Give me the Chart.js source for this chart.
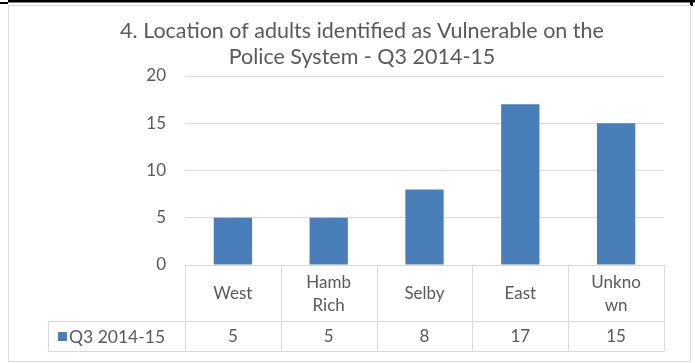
<!DOCTYPE html>
<html>
<head>
<meta charset="utf-8">
<script src="https://cdn.jsdelivr.net/npm/chart.js@4"></script>
<style>
html,body{margin:0;padding:0;background:#fff;}
#wrap{position:relative;width:695px;height:363px;}
canvas{display:block;}
</style>
</head>
<body>
<div id="wrap"><canvas id="c" width="695" height="363"></canvas></div>
<script>
const titleLines = ["4. Location of adults identified as Vulnerable on the", "Police System - Q3 2014-15"];
const categories = [["West"], ["Hamb", "Rich"], ["Selby"], ["East"], ["Unkno", "wn"]];
const seriesName = "Q3 2014-15";
const seriesValues = [5, 5, 8, 17, 15];
const yTicks = [0, 5, 10, 15, 20];

const FONT = "Lato, 'Open Sans', sans-serif";
const TXT = "#595959";
const GRID = "#d9d9d9";
const BAR = "#4a7ebb";

const tablePlugin = {
  id: "tablePlugin",
  afterDraw(chart) {
    const ctx = chart.ctx;
    const xs = chart.scales.x;
    const area = chart.chartArea;
    const n = categories.length;
    const half = (xs.getPixelForValue(1) - xs.getPixelForValue(0)) / 2;
    const left = xs.getPixelForValue(0) - half;
    const right = xs.getPixelForValue(n - 1) + half;
    const top = area.bottom;
    const rowMid = top + 56;
    const bottom = rowMid + 30;
    const legendLeft = 48;
    ctx.save();
    // page table border at top
    ctx.fillStyle = "#000";
    ctx.fillRect(8, 0, 687, 2.5);
    ctx.fillRect(0, 2, 8, 2);
    ctx.fillRect(690, 0, 3, 6);
    // chart frame
    ctx.strokeStyle = "#d9d9d9";
    ctx.lineWidth = 1;
    ctx.strokeRect(8.5, 5.5, 682, 356);
    // title
    ctx.fillStyle = TXT;
    ctx.font = "21.5px " + FONT;
    ctx.textAlign = "center";
    ctx.textBaseline = "middle";
    ctx.fillText(titleLines[0], 362, 31);
    ctx.fillText(titleLines[1], 362, 57);
    // table grid
    ctx.strokeStyle = GRID;
    ctx.beginPath();
    ctx.moveTo(legendLeft, rowMid + 0.5); ctx.lineTo(right, rowMid + 0.5);
    ctx.moveTo(legendLeft, bottom + 0.5); ctx.lineTo(right, bottom + 0.5);
    ctx.moveTo(legendLeft + 0.5, rowMid); ctx.lineTo(legendLeft + 0.5, bottom);
    for (let i = 0; i <= n; i++) {
      const x = Math.round(left + i * 2 * half) + 0.5;
      ctx.moveTo(x, top); ctx.lineTo(x, bottom);
    }
    ctx.stroke();
    // header labels and values
    ctx.fillStyle = TXT;
    ctx.font = "17px " + FONT;
    for (let i = 0; i < n; i++) {
      const cx = xs.getPixelForValue(i);
      const lines = categories[i];
      const lh = 23;
      const y0 = (top + rowMid) / 2 - (lines.length - 1) * lh / 2 + 1;
      lines.forEach((t, k) => ctx.fillText(t, cx, y0 + k * lh));
      ctx.fillText(String(seriesValues[i]), cx, (rowMid + bottom) / 2 + 1);
    }
    // legend key
    ctx.fillStyle = BAR;
    ctx.fillRect(58, 332, 9, 9);
    ctx.fillStyle = TXT;
    ctx.textAlign = "left";
    ctx.font = "17.5px " + FONT;
    ctx.fillText(seriesName, 69, (rowMid + bottom) / 2 + 1);
    ctx.restore();
  }
};

new Chart(document.getElementById("c"), {
  type: "bar",
  data: {
    labels: categories,
    datasets: [{
      label: seriesName,
      data: seriesValues,
      backgroundColor: BAR,
      borderWidth: 0,
      barPercentage: 0.4,
      categoryPercentage: 1.0
    }]
  },
  options: {
    responsive: false,
    animation: false,
    events: [],
    layout: { padding: { left: 0, right: 31, top: 76, bottom: 98 } },
    plugins: { legend: { display: false }, title: { display: false }, tooltip: { enabled: false } },
    scales: {
      x: { display: false },
      y: {
        min: 0, max: 20,
        afterFit(s) { s.width = 185; },
        afterBuildTicks(s) { s.ticks = yTicks.map(v => ({ value: v })); },
        border: { display: false },
        grid: { color: GRID, drawTicks: false, lineWidth: 1 },
        ticks: { color: TXT, font: { family: FONT, size: 17 }, padding: 19 }
      }
    }
  },
  plugins: [tablePlugin]
});
</script>
</body>
</html>
